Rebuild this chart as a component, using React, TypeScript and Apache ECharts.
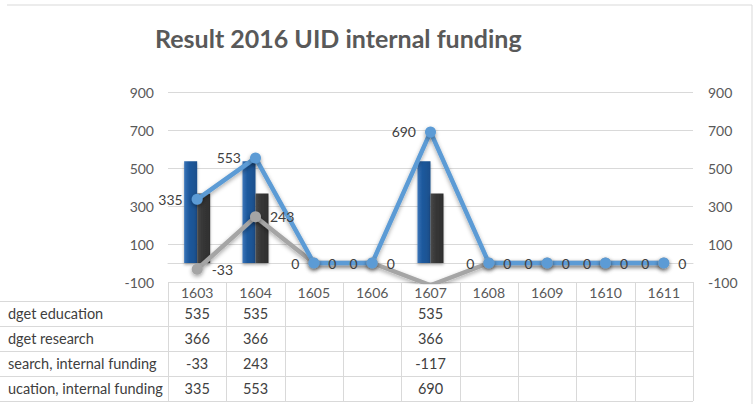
import React, { useEffect, useRef } from "react";
import * as echarts from "echarts";

const titleText = "Result 2016 UID internal funding";
const categories = ["1603", "1604", "1605", "1606", "1607", "1608", "1609", "1610", "1611"];
const rowLabels = ["dget education", "dget research", "search, internal funding", "ucation, internal funding"];
const budgetEducation = [535, 535, 0, 0, 535, 0, 0, 0, 0];
const budgetResearch = [366, 366, 0, 0, 366, 0, 0, 0, 0];
const researchFunding = [-33, 243, 0, 0, -117, 0, 0, 0, 0];
const educationFunding = [335, 553, 0, 0, 690, 0, 0, 0, 0];
const yMin = -100;
const yMax = 900;
const yInterval = 200;

const W = 754;
const H = 404;
const GRID_LEFT = 168;
const GRID_RIGHT = 693;
const GRID_TOP = 92;
const GRID_BOTTOM = 282;
const FONT = "Lato, 'Open Sans', sans-serif";
const LINE_COLOR = "#d9d9d9";

export default function App() {
  const ref = useRef<HTMLDivElement>(null);
  useEffect(() => {
    if (!ref.current) return;
    const chart = echarts.init(ref.current, null, { renderer: "svg", width: W, height: H });

    const colW = (GRID_RIGHT - GRID_LEFT) / categories.length;
    const headerBottom = 301;
    const rowH = 25;
    const tableRows = [budgetEducation, budgetResearch, researchFunding, educationFunding];
    const tableBottom = headerBottom + rowH * tableRows.length;
    const graphics: any[] = [];

    // outer chart border (top and right)
    graphics.push({ type: "line", shape: { x1: 7, y1: 5, x2: 752, y2: 5 }, style: { stroke: LINE_COLOR, lineWidth: 1 } });
    graphics.push({ type: "line", shape: { x1: 752, y1: 5, x2: 752, y2: H }, style: { stroke: LINE_COLOR, lineWidth: 1 } });

    // table vertical lines
    for (let i = 0; i <= categories.length; i++) {
      const x = Math.round(GRID_LEFT + i * colW) + 0.5;
      graphics.push({ type: "line", shape: { x1: x, y1: GRID_BOTTOM, x2: x, y2: tableBottom }, style: { stroke: LINE_COLOR, lineWidth: 1 } });
    }
    // table horizontal lines
    for (let r = 0; r <= tableRows.length; r++) {
      const y = headerBottom + r * rowH + 0.5;
      graphics.push({ type: "line", shape: { x1: 0, y1: y, x2: GRID_RIGHT, y2: y }, style: { stroke: LINE_COLOR, lineWidth: 1 } });
    }
    // header labels
    categories.forEach((c, i) => {
      graphics.push({
        type: "text",
        x: GRID_LEFT + (i + 0.5) * colW,
        y: (GRID_BOTTOM + headerBottom) / 2 + 1,
        style: { text: c, fill: "#595959", font: `14px ${FONT}`, align: "center", verticalAlign: "middle" },
      });
    });
    // row labels and values
    tableRows.forEach((row, r) => {
      const cy = headerBottom + r * rowH + rowH / 2;
      graphics.push({
        type: "text",
        x: 8,
        y: cy,
        style: { text: rowLabels[r], fill: "#404040", font: `14.5px ${FONT}`, align: "left", verticalAlign: "middle" },
      });
      row.forEach((v, i) => {
        if (v === 0) return;
        graphics.push({
          type: "text",
          x: GRID_LEFT + (i + 0.5) * colW,
          y: cy,
          style: { text: String(v), fill: "#404040", font: `14.5px ${FONT}`, align: "center", verticalAlign: "middle" },
        });
      });
    });

    const labelStyle = { fontSize: 14, color: "#404040", fontFamily: FONT };
    const lineShadow = { shadowColor: "rgba(0,0,0,0.35)", shadowBlur: 4, shadowOffsetY: 2 };

    chart.setOption({
      animation: false,
      backgroundColor: "#ffffff",
      title: {
        text: titleText,
        left: 150,
        top: 20,
        textStyle: { fontSize: 25, fontWeight: "bold", color: "#595959", fontFamily: FONT },
      },
      grid: { left: GRID_LEFT, right: W - GRID_RIGHT, top: GRID_TOP, bottom: H - GRID_BOTTOM, containLabel: false },
      xAxis: {
        type: "category",
        data: categories,
        axisLine: { show: true, onZero: true, lineStyle: { color: LINE_COLOR, width: 1 } },
        axisTick: { show: false },
        axisLabel: { show: false },
        splitLine: { show: false },
      },
      yAxis: [
        {
          type: "value",
          min: yMin,
          max: yMax,
          interval: yInterval,
          axisLine: { show: false },
          axisTick: { show: false },
          axisLabel: { color: "#595959", fontSize: 14, fontFamily: FONT, margin: 14 },
          splitLine: { show: true, lineStyle: { color: LINE_COLOR, width: 1 } },
        },
        {
          type: "value",
          min: yMin,
          max: yMax,
          interval: yInterval,
          position: "right",
          axisLine: { show: false },
          axisTick: { show: false },
          axisLabel: { color: "#595959", fontSize: 14, fontFamily: FONT, margin: 15 },
          splitLine: { show: false },
        },
      ],
      series: [
        {
          name: "Budget education",
          type: "bar",
          data: budgetEducation,
          barWidth: 13,
          barGap: "0%",
          itemStyle: {
            color: new echarts.graphic.LinearGradient(0, 0, 1, 0, [
              { offset: 0, color: "#3a74b8" },
              { offset: 0.35, color: "#1f5a9e" },
              { offset: 1, color: "#1a4f8c" },
            ]),
            shadowColor: "rgba(0,0,0,0.3)",
            shadowBlur: 3,
            shadowOffsetY: 2,
          },
        },
        {
          name: "Budget research",
          type: "bar",
          data: budgetResearch,
          barWidth: 13,
          barGap: "0%",
          itemStyle: {
            color: new echarts.graphic.LinearGradient(0, 0, 1, 0, [
              { offset: 0, color: "#4a4a4a" },
              { offset: 0.35, color: "#383838" },
              { offset: 1, color: "#2e2e2e" },
            ]),
            shadowColor: "rgba(0,0,0,0.3)",
            shadowBlur: 3,
            shadowOffsetY: 2,
          },
        },
        {
          name: "Research, internal funding",
          type: "line",
          yAxisIndex: 1,
          data: researchFunding,
          symbol: "circle",
          symbolSize: 11,
          clip: true,
          lineStyle: { color: "#a5a5a5", width: 4.5, ...lineShadow },
          itemStyle: { color: "#a5a5a5", ...lineShadow },
          label: { show: true, position: "right", distance: 9, ...labelStyle },
        },
        {
          name: "Education, internal funding",
          type: "line",
          yAxisIndex: 1,
          data: educationFunding,
          symbol: "circle",
          symbolSize: 11,
          clip: true,
          lineStyle: { color: "#5b9bd5", width: 4.5, ...lineShadow },
          itemStyle: { color: "#5b9bd5", ...lineShadow },
          label: { show: true, position: "left", distance: 9, ...labelStyle },
        },
      ],
      graphic: graphics,
    });
    return () => chart.dispose();
  }, []);
  return <div ref={ref} style={{ position: "fixed", left: 0, top: 0, width: W, height: H }} />;
}
